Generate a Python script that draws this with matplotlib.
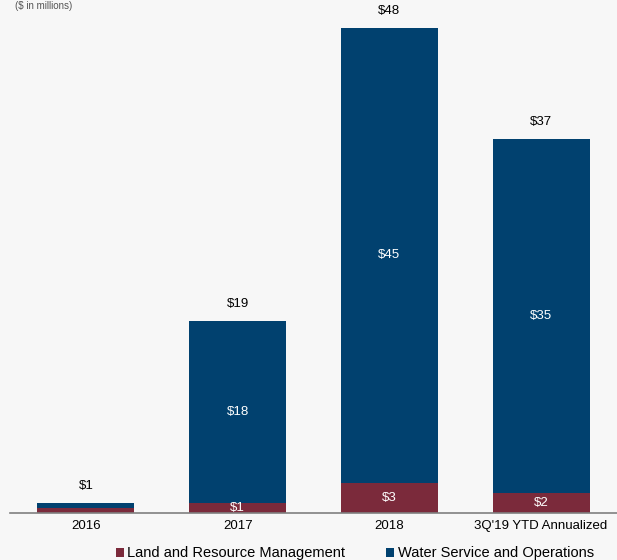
import numpy as np
import matplotlib.pyplot as plt

plt.rcParams['font.family'] = ['Liberation Sans', 'DejaVu Sans']

categories = ['2016', '2017', '2018', "3Q'19 YTD Annualized"]
land = [0.5, 1, 3, 2]
water = [0.5, 18, 45, 35]
totals = [1, 19, 48, 37]
land_labels = ['', '$1', '$3', '$2']
water_labels = ['', '$18', '$45', '$35']

red = '#7b2a3b'
blue = '#01416f'
bg = '#f7f7f7'

fig = plt.figure(figsize=(6.17, 5.60), dpi=100, facecolor=bg)
ax = fig.add_axes([10 / 617, 47 / 560, 607 / 617, 510 / 560], facecolor=bg)

x = np.arange(len(categories))
w = 0.64
ax.bar(x, land, w, color=red, label='Land and Resource Management')
ax.bar(x, water, w, bottom=land, color=blue, label='Water Service and Operations')

for i in range(len(x)):
    ax.text(x[i], totals[i] + 1.1, '$' + str(totals[i]), ha='center', va='bottom', fontsize=9.5)
    if land_labels[i]:
        ax.text(x[i], land[i] / 2, land_labels[i], ha='center', va='center', color='white', fontsize=9.5)
    if water_labels[i]:
        ax.text(x[i], land[i] + water[i] / 2, water_labels[i], ha='center', va='center', color='white', fontsize=9.5)

ax.set_xlim(-0.5, 3.5)
ax.set_ylim(0, 50.5)
ax.set_xticks(x)
ax.set_xticklabels(categories, fontsize=9.5)
ax.tick_params(axis='x', length=0, pad=5)
ax.set_yticks([])
for s in ['top', 'right', 'left']:
    ax.spines[s].set_visible(False)
ax.spines['bottom'].set_color('#808080')
ax.spines['bottom'].set_linewidth(1.2)

fig.legend(loc='lower center', bbox_to_anchor=(0.575, -0.024), ncol=2, frameon=False,
           fontsize=10.5, handlelength=0.55, handleheight=0.55, handletextpad=0.25, columnspacing=2.8)

fig.text(15 / 617, 0.999, '($ in millions)', fontsize=7, color='#555555', va='top')

fig.savefig('out.png', dpi=100, facecolor=bg)
